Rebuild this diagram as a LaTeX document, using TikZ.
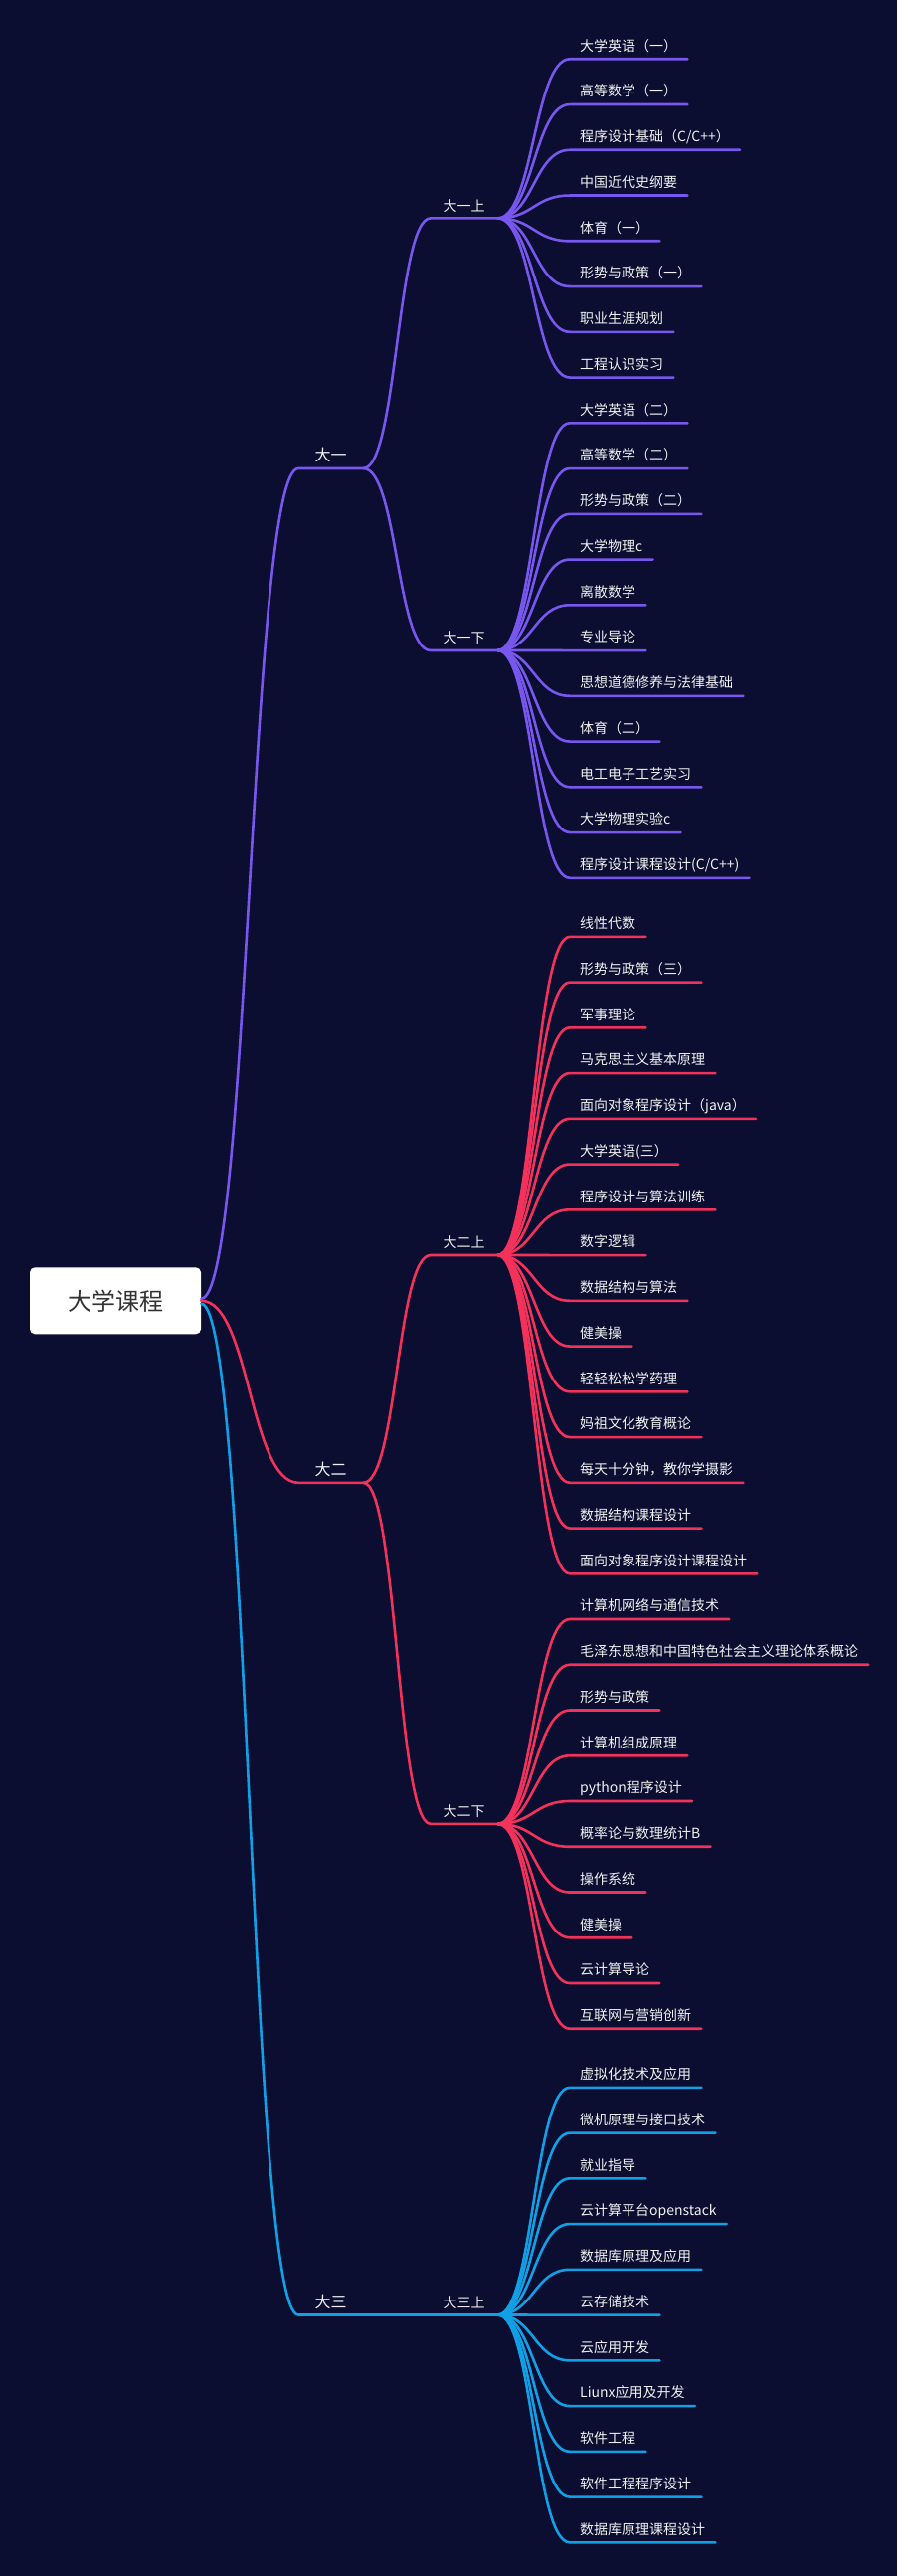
\documentclass[tikz,border=0pt]{standalone}
\usepackage{fontspec}
\setmainfont{Noto Sans CJK SC}
\definecolor{mapbg}{HTML}{0B0E30}
\definecolor{mapviolet}{HTML}{7857EE}
\definecolor{mapred}{HTML}{F2325B}
\definecolor{mapblue}{HTML}{119FE6}
\definecolor{maptext}{HTML}{F2F2F2}

\begin{document}
\begin{tikzpicture}[x=1pt, y=-1pt,
  rootbox/.style={fill=white, rounded corners=5pt, minimum width=172pt, minimum height=67pt, inner sep=0pt, font=\fontsize{24}{24}\selectfont, text=black!80},
  yearnode/.style={anchor=south west, inner sep=0pt, minimum width=65pt, text depth=7pt, font=\fontsize{16}{16}\selectfont, text=maptext},
  semnode/.style={anchor=south west, inner sep=0pt, minimum width=67pt, text depth=7pt, font=\fontsize{14}{14}\selectfont, text=maptext},
  course/.style={anchor=south west, inner xsep=10pt, inner ysep=0pt, text depth=8pt, font=\fontsize{14}{14}\selectfont, text=maptext},
  branch/.style={line width=2.6pt, line cap=round}]

\fill[mapbg] (0,0) rectangle (902,2590);

\node[rootbox] (root) at (116,1307.8) {大学课程};

% years
\node[yearnode] (y1) at (300,471) {大一};
\node[yearnode] (y2) at (300,1490.8) {大二};
\node[yearnode] (y3) at (300,2327.5) {大三};
\draw[branch, mapviolet] ([yshift=2pt]root.east) .. controls +(49,0) and +(-49,0) .. (y1.south west) -- (y1.south east);
\draw[branch, mapred] (root.east) .. controls +(49,0) and +(-49,0) .. (y2.south west) -- (y2.south east);
\draw[branch, mapblue] ([yshift=-3pt]root.east) .. controls +(49,0) and +(-49,0) .. (y3.south west) -- (y3.south east);

% semesters
\node[semnode] (s1a) at (433,219.4) {大一上};
\node[semnode] (s1b) at (433,654) {大一下};
\node[semnode] (s2a) at (433,1262) {大二上};
\node[semnode] (s2b) at (433,1833.9) {大二下};
\node[semnode] (s3a) at (433,2327.5) {大三上};
\draw[branch, mapviolet] (y1.south east) .. controls +(34,0) and +(-34,0) .. (s1a.south west) -- (s1a.south east);
\draw[branch, mapviolet] (y1.south east) .. controls +(34,0) and +(-34,0) .. (s1b.south west) -- (s1b.south east);
\draw[branch, mapred] (y2.south east) .. controls +(34,0) and +(-34,0) .. (s2a.south west) -- (s2a.south east);
\draw[branch, mapred] (y2.south east) .. controls +(34,0) and +(-34,0) .. (s2b.south west) -- (s2b.south east);
\draw[branch, mapblue] (y3.south east) .. controls +(34,0) and +(-34,0) .. (s3a.south west) -- (s3a.south east);

% courses
\foreach \t [count=\i from 0] in {大学英语（一）,
  高等数学（一）,
  程序设计基础（C/C++）,
  中国近代史纲要,
  体育（一）,
  形势与政策（一）,
  职业生涯规划,
  工程认识实习} {
  \node[course] (c1a-\i) at (573,59.3+\i*45.75) {\t};
  \draw[branch, mapviolet] (s1a.south east) .. controls +(36,0) and +(-36,0) .. (c1a-\i.south west) -- (c1a-\i.south east);
}
\foreach \t [count=\i from 0] in {大学英语（二）,
  高等数学（二）,
  形势与政策（二）,
  大学物理c,
  离散数学,
  专业导论,
  思想道德修养与法律基础,
  体育（二）,
  电工电子工艺实习,
  大学物理实验c,
  程序设计课程设计(C/C++)} {
  \node[course] (c1b-\i) at (573,425.3+\i*45.75) {\t};
  \draw[branch, mapviolet] (s1b.south east) .. controls +(36,0) and +(-36,0) .. (c1b-\i.south west) -- (c1b-\i.south east);
}
\foreach \t [count=\i from 0] in {线性代数,
  形势与政策（三）,
  军事理论,
  马克思主义基本原理,
  面向对象程序设计（java）,
  大学英语(三）,
  程序设计与算法训练,
  数字逻辑,
  数据结构与算法,
  健美操,
  轻轻松松学药理,
  妈祖文化教育概论,
  每天十分钟，教你学摄影,
  数据结构课程设计,
  面向对象程序设计课程设计} {
  \node[course] (c2a-\i) at (573,941.8+\i*45.75) {\t};
  \draw[branch, mapred] (s2a.south east) .. controls +(36,0) and +(-36,0) .. (c2a-\i.south west) -- (c2a-\i.south east);
}
\foreach \t [count=\i from 0] in {计算机网络与通信技术,
  毛泽东思想和中国特色社会主义理论体系概论,
  形势与政策,
  计算机组成原理,
  python程序设计,
  概率论与数理统计B,
  操作系统,
  健美操,
  云计算导论,
  互联网与营销创新} {
  \node[course] (c2b-\i) at (573,1628+\i*45.75) {\t};
  \draw[branch, mapred] (s2b.south east) .. controls +(36,0) and +(-36,0) .. (c2b-\i.south west) -- (c2b-\i.south east);
}
\foreach \t [count=\i from 0] in {虚拟化技术及应用,
  微机原理与接口技术,
  就业指导,
  云计算平台openstack,
  数据库原理及应用,
  云存储技术,
  云应用开发,
  Liunx应用及开发,
  软件工程,
  软件工程程序设计,
  数据库原理课程设计} {
  \node[course] (c3a-\i) at (573,2098.8+\i*45.75) {\t};
  \draw[branch, mapblue] (s3a.south east) .. controls +(36,0) and +(-36,0) .. (c3a-\i.south west) -- (c3a-\i.south east);
}

\end{tikzpicture}
\end{document}
